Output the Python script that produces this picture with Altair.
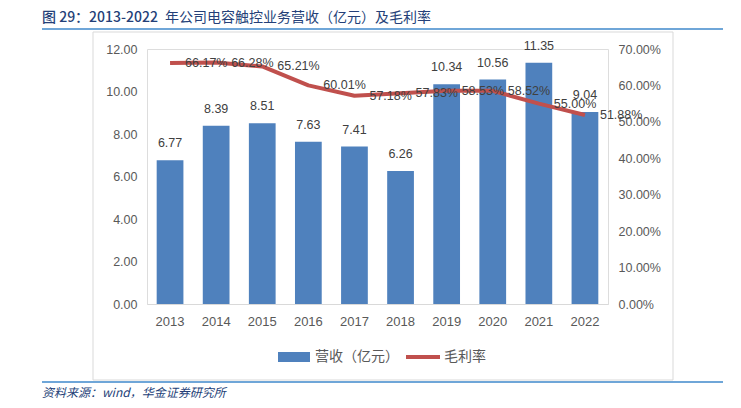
import altair as alt
import pandas as pd

years = ["2013", "2014", "2015", "2016", "2017", "2018", "2019", "2020", "2021", "2022"]
revenue = [6.77, 8.39, 8.51, 7.63, 7.41, 6.26, 10.34, 10.56, 11.35, 9.04]
margin_pct = [66.17, 66.28, 65.21, 60.01, 57.18, 57.83, 58.53, 58.52, 55.00, 51.88]
left_ticks = [0, 2, 4, 6, 8, 10, 12]
right_ticks = [0, 0.1, 0.2, 0.3, 0.4, 0.5, 0.6, 0.7]

df = pd.DataFrame({"year": years, "revenue": revenue,
                   "margin": [m / 100 for m in margin_pct]})
one = pd.DataFrame({"d": [0]})

FONT = "Liberation Sans"
CJK = "Noto Sans CJK SC"
BAR = "#4F81BD"
LINE = "#C0504D"
TXT = "#595959"
NAVY = "#243F78"
RULE = "#6FA6D8"

# origin of plot area on page: x=147, y=49
def px(x):
    return x - 147

def py(y):
    return y - 49

xenc = alt.X("year:N", title=None, sort=years,
             scale=alt.Scale(paddingInner=0.42, paddingOuter=0.21),
             axis=alt.Axis(labelAngle=0, domainColor="#D9D9D9", domainWidth=1,
                           ticks=False, labelPadding=11, labelFontSize=13,
                           labelColor=TXT, labelFont=FONT, grid=False))

yrev = alt.Y("revenue:Q", scale=alt.Scale(domain=[0, 12], nice=False),
             axis=alt.Axis(orient="left", values=left_ticks, format=".2f", title=None,
                           domain=False, ticks=False, grid=False, labelPadding=10,
                           labelFontSize=12.5, labelColor=TXT, labelFont=FONT))
ymar = alt.Y("margin:Q", scale=alt.Scale(domain=[0, 0.7], nice=False),
             axis=alt.Axis(orient="right", values=right_ticks, format=".2%", title=None,
                           domain=False, ticks=False, grid=False, labelPadding=10,
                           labelFontSize=12.5, labelColor=TXT, labelFont=FONT))

base = alt.Chart(df)
bars = base.mark_bar(color=BAR).encode(x=xenc, y=yrev)
bar_labels = base.mark_text(dy=-17, baseline="middle", fontSize=12.5, color="#404040",
                            font=FONT).encode(
    x=xenc, y=yrev, text=alt.Text("revenue:Q", format=".2f"))
line = base.mark_line(color=LINE, strokeWidth=4, strokeJoin="round").encode(x=xenc, y=ymar)
line_labels = base.mark_text(align="left", dx=15, baseline="middle", fontSize=12.5,
                             color="#404040", font=FONT).encode(
    x=xenc, y=ymar, text=alt.Text("margin:Q", format=".2%"))

dec = alt.Chart(one)
frame = dec.mark_rect(fill=None, stroke="#D9D9D9", strokeWidth=1).encode(
    x=alt.value(px(93)), x2=alt.value(px(673)), y=alt.value(py(32)), y2=alt.value(py(380)))
top_rule = dec.mark_rule(color=RULE, strokeWidth=2).encode(
    x=alt.value(px(42)), x2=alt.value(px(723)), y=alt.value(py(29)))
bot_rule = dec.mark_rule(color=RULE, strokeWidth=2).encode(
    x=alt.value(px(42)), x2=alt.value(px(723)), y=alt.value(py(382)))
title1 = dec.mark_text(align="left", baseline="middle", fontSize=14, font=CJK,
                       fontWeight=500, color=NAVY).encode(
    x=alt.value(px(42)), y=alt.value(py(18)), text=alt.value("图 29：2013-2022"))
title2 = dec.mark_text(align="left", baseline="middle", fontSize=14, font=CJK,
                       color=NAVY).encode(
    x=alt.value(px(165)), y=alt.value(py(18)),
    text=alt.value("年公司电容触控业务营收（亿元）及毛利率"))
footer = dec.mark_text(align="left", baseline="middle", fontSize=12, font=CJK,
                       fontStyle="italic", color=NAVY).encode(
    x=alt.value(px(42)), y=alt.value(py(393)), text=alt.value("资料来源：wind，华金证券研究所"))
leg_rect = dec.mark_rect(color=BAR).encode(
    x=alt.value(px(278)), x2=alt.value(px(310)), y=alt.value(py(352)), y2=alt.value(py(362)))
leg_t1 = dec.mark_text(align="left", baseline="middle", fontSize=14, font=CJK,
                       color=TXT).encode(
    x=alt.value(px(315)), y=alt.value(py(357)), text=alt.value("营收（亿元）"))
leg_line = dec.mark_rule(color=LINE, strokeWidth=4).encode(
    x=alt.value(px(406)), x2=alt.value(px(440)), y=alt.value(py(357)))
leg_t2 = dec.mark_text(align="left", baseline="middle", fontSize=14, font=CJK,
                       color=TXT).encode(
    x=alt.value(px(444)), y=alt.value(py(357)), text=alt.value("毛利率"))

chart = alt.layer(
    alt.layer(bars, bar_labels),
    alt.layer(line, line_labels),
    frame, top_rule, bot_rule, title1, title2, footer, leg_rect, leg_t1, leg_line, leg_t2,
).resolve_scale(y="independent").properties(
    width=461, height=255,
    autosize=alt.AutoSizeParams(type="none"),
    padding={"left": 139, "top": 41, "right": 125, "bottom": 96},
).configure_view(stroke=None).configure(background="white")

chart.save("out.html", embed_options={"renderer": "svg", "actions": False})
